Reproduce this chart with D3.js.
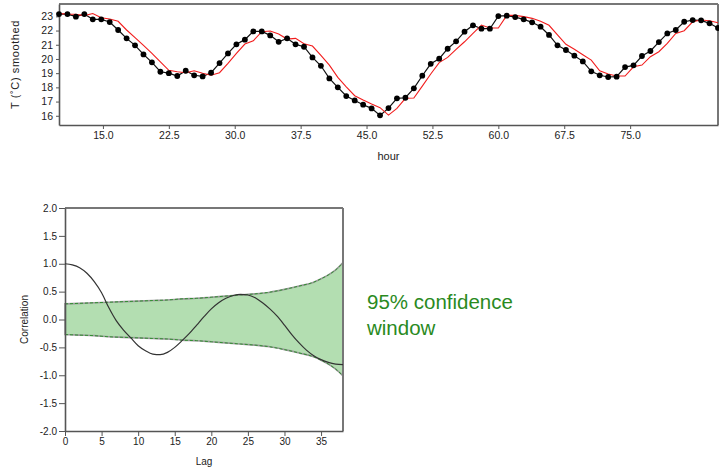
<!DOCTYPE html>
<html>
<head>
<meta charset="utf-8">
<script src="https://cdn.jsdelivr.net/npm/d3@7"></script>
<style>
  html, body { margin: 0; padding: 0; background: #fff; }
  svg { display: block; font-family: "Liberation Sans", Arial, Helvetica, sans-serif; }
</style>
</head>
<body>
<svg id="chart" width="719" height="468"></svg>
<script>
// ---------- Top chart data: smoothed temperature (79 samples from hour 10 to 85) ----------
const sampleCount = 79;
const hourStart = 10;
const hourEnd = 85;
const tempObserved = [
  23.16, 23.16, 22.98, 23.16, 22.79, 22.79, 22.60, 22.04, 21.45, 20.96,
  20.32, 19.76, 19.10, 19.00, 18.80, 19.17, 18.85, 18.77, 19.03, 19.71,
  20.39, 21.03, 21.36, 21.94, 21.94, 21.66, 21.21, 21.45, 21.03, 20.86,
  20.11, 19.52, 18.63, 18.00, 17.39, 17.08, 16.78, 16.52, 16.03, 16.54,
  17.23, 17.27, 17.93, 18.82, 19.66, 20.02, 20.72, 21.24, 21.92, 22.37,
  22.13, 22.13, 23.02, 23.05, 22.95, 22.79, 22.58, 22.27, 21.69, 20.96,
  20.63, 20.23, 19.83, 19.13, 18.85, 18.73, 18.75, 19.43, 19.55, 20.21,
  20.56, 21.19, 21.80, 22.04, 22.62, 22.74, 22.72, 22.51, 22.18
];
const tempSmoothed = [
  23.20, 23.16, 23.15, 23.05, 23.20, 22.90, 22.81, 22.65, 22.04, 21.50,
  20.95, 20.40, 19.80, 19.20, 19.10, 19.03, 19.17, 18.99, 18.85, 19.03,
  19.69, 20.39, 21.05, 21.28, 21.92, 21.97, 21.76, 21.40, 21.45, 21.07,
  20.91, 20.25, 19.57, 18.70, 18.04, 17.41, 17.11, 16.83, 16.57, 16.05,
  16.52, 17.23, 17.25, 18.09, 18.94, 19.74, 20.11, 20.68, 21.21, 21.80,
  22.39, 22.18, 22.18, 23.07, 23.07, 22.98, 22.86, 22.65, 22.37, 21.69,
  21.03, 20.68, 20.30, 19.92, 19.17, 18.94, 18.80, 18.80, 19.45, 19.57,
  20.16, 20.51, 21.10, 21.80, 21.99, 22.62, 22.74, 22.69, 22.55
];
const hourTicks = [15.0, 22.5, 30.0, 37.5, 45.0, 52.5, 60.0, 67.5, 75.0];
const tempTicks = [16, 17, 18, 19, 20, 21, 22, 23];

// ---------- Bottom chart data: autocorrelation ----------
const lags = d3.range(0, 39);
const correlation = [
  1.00, 0.98, 0.93, 0.83, 0.68, 0.48, 0.21, -0.02, -0.19, -0.33,
  -0.47, -0.56, -0.62, -0.63, -0.59, -0.50, -0.38, -0.25, -0.10, 0.05,
  0.19, 0.30, 0.38, 0.43, 0.45, 0.44, 0.39, 0.30, 0.19, 0.06,
  -0.10, -0.27, -0.42, -0.55, -0.65, -0.72, -0.77, -0.80, -0.81
];
const bandLags =  [0, 2, 4, 6, 8, 10, 12, 14, 16, 18, 20, 22, 24, 26, 28, 30, 32, 34, 35, 36, 37, 38];
const bandUpper = [0.28, 0.29, 0.30, 0.31, 0.32, 0.33, 0.34, 0.35, 0.37, 0.38, 0.40, 0.42, 0.44, 0.46, 0.49, 0.54, 0.60, 0.67, 0.73, 0.80, 0.89, 1.02];
const bandLower = [-0.27, -0.28, -0.29, -0.31, -0.32, -0.33, -0.34, -0.35, -0.37, -0.38, -0.40, -0.42, -0.44, -0.46, -0.49, -0.54, -0.60, -0.67, -0.73, -0.80, -0.89, -1.01];
const corrTicks = [-2.0, -1.5, -1.0, -0.5, 0.0, 0.5, 1.0, 1.5, 2.0];
const lagTicks = [0, 5, 10, 15, 20, 25, 30, 35];

const svg = d3.select("#chart");
const textColor = "#222";
const axisColor = "#555";

function styleAxis(g) {
  g.selectAll("path.domain").attr("stroke", axisColor).attr("stroke-width", 1.6);
  g.selectAll(".tick line").attr("stroke", axisColor).attr("stroke-width", 1);
  g.selectAll(".tick text").attr("fill", textColor).attr("font-family", '"Liberation Sans", Arial, sans-serif');
}

// ================= TOP CHART =================
const T = { left: 59, right: 718, top: 4, bottom: 125 };
const xTop = d3.scaleLinear().domain([hourStart, hourEnd]).range([T.left, T.right]);
const yTop = d3.scaleLinear().domain([15.35, 23.87]).range([T.bottom, T.top]);
const hours = d3.range(sampleCount).map(i => hourStart + i * (hourEnd - hourStart) / (sampleCount - 1));
const obs = hours.map((h, i) => ({ h, v: tempObserved[i] }));
const smo = hours.map((h, i) => ({ h, v: tempSmoothed[i] }));

const topG = svg.append("g");
topG.append("line").attr("x1", T.left).attr("x2", T.right).attr("y1", T.top).attr("y2", T.top)
  .attr("stroke", "#777").attr("stroke-width", 2);
topG.append("line").attr("x1", T.right).attr("x2", T.right).attr("y1", T.top).attr("y2", T.bottom)
  .attr("stroke", "#777").attr("stroke-width", 2);

const gxTop = topG.append("g").attr("transform", `translate(0,${T.bottom})`)
  .call(d3.axisBottom(xTop).tickValues(hourTicks).tickFormat(d => d.toFixed(1)).tickSize(4).tickPadding(3).tickSizeOuter(0));
styleAxis(gxTop);
gxTop.selectAll(".tick text").attr("font-size", 10.5);

const gyTop = topG.append("g").attr("transform", `translate(${T.left},0)`)
  .call(d3.axisLeft(yTop).tickValues(tempTicks).tickFormat(d => String(d)).tickSize(3).tickPadding(3).tickSizeOuter(0));
styleAxis(gyTop);
gyTop.selectAll(".tick text").attr("font-size", 10.5);

topG.append("text").attr("x", (T.left + T.right) / 2).attr("y", 160)
  .attr("text-anchor", "middle").attr("font-size", 11).attr("fill", textColor).text("hour");
topG.append("text").attr("transform", `translate(19,${(T.top + T.bottom) / 2}) rotate(-90)`)
  .attr("text-anchor", "middle").attr("font-size", 11).attr("fill", textColor)
  .attr("letter-spacing", 0.6).text("T (˚C) smoothed");

const lineTop = d3.line().x(d => xTop(d.h)).y(d => yTop(d.v));
topG.append("path").datum(obs).attr("d", lineTop).attr("fill", "none")
  .attr("stroke", "#111").attr("stroke-width", 1.2);
topG.append("path").datum(smo).attr("d", lineTop).attr("fill", "none")
  .attr("stroke", "#f21d1d").attr("stroke-width", 1.1);
topG.append("g").selectAll("circle").data(obs).join("circle")
  .attr("cx", d => xTop(d.h)).attr("cy", d => yTop(d.v)).attr("r", 2.9).attr("fill", "#000");

// ================= BOTTOM CHART =================
const B = { left: 65, right: 343, top: 208, bottom: 431 };
const xB = d3.scaleLinear().domain([0, 38]).range([B.left, B.right]);
const yB = d3.scaleLinear().domain([-2, 2]).range([B.bottom, B.top]);
const bot = svg.append("g");

const band = bandLags.map((l, i) => ({ l, u: bandUpper[i], lo: bandLower[i] }));
const area = d3.area().x(d => xB(d.l)).y0(d => yB(d.lo)).y1(d => yB(d.u)).curve(d3.curveMonotoneX);
bot.append("path").datum(band).attr("d", area).attr("fill", "#b3deb1")
  .attr("stroke", "#9a9a9a").attr("stroke-width", 1.6);
const edgeU = d3.line().x(d => xB(d.l)).y(d => yB(d.u)).curve(d3.curveMonotoneX);
const edgeL = d3.line().x(d => xB(d.l)).y(d => yB(d.lo)).curve(d3.curveMonotoneX);
[edgeU, edgeL].forEach(fn => {
  bot.append("path").datum(band).attr("d", fn).attr("fill", "none")
    .attr("stroke", "#2f8f2f").attr("stroke-width", 1).attr("stroke-dasharray", "3,2");
});

bot.append("line").attr("x1", B.left).attr("x2", B.right).attr("y1", B.top).attr("y2", B.top)
  .attr("stroke", "#777").attr("stroke-width", 2);
bot.append("line").attr("x1", B.right).attr("x2", B.right).attr("y1", B.top).attr("y2", B.bottom)
  .attr("stroke", "#777").attr("stroke-width", 2);

const gxB = bot.append("g").attr("transform", `translate(0,${B.bottom})`)
  .call(d3.axisBottom(xB).tickValues(lagTicks).tickFormat(d => String(d)).tickSize(5).tickPadding(2).tickSizeOuter(0));
styleAxis(gxB);
gxB.selectAll(".tick text").attr("font-size", 10);

const gyB = bot.append("g").attr("transform", `translate(${B.left},0)`)
  .call(d3.axisLeft(yB).tickValues(corrTicks).tickFormat(d => d.toFixed(1)).tickSize(6).tickPadding(2).tickSizeOuter(0));
styleAxis(gyB);
gyB.selectAll(".tick text").attr("font-size", 10);

bot.append("text").attr("x", (B.left + B.right) / 2).attr("y", 465)
  .attr("text-anchor", "middle").attr("font-size", 10).attr("fill", textColor).text("Lag");
bot.append("text").attr("transform", `translate(28,${(B.top + B.bottom) / 2}) rotate(-90)`)
  .attr("text-anchor", "middle").attr("font-size", 10).attr("fill", textColor).text("Correlation");

const corrData = lags.map((l, i) => ({ l, v: correlation[i] }));
const corrLine = d3.line().x(d => xB(d.l)).y(d => yB(d.v)).curve(d3.curveMonotoneX);
bot.append("path").datum(corrData).attr("d", corrLine).attr("fill", "none")
  .attr("stroke", "#333").attr("stroke-width", 1.2);

// annotation
const note = svg.append("text").attr("x", 367).attr("y", 309)
  .attr("font-size", 20.5).attr("fill", "#2a8a1e")
  .attr("font-family", '"Liberation Sans", Arial, sans-serif');
note.append("tspan").attr("x", 367).attr("y", 309).text("95% confidence");
note.append("tspan").attr("x", 367).attr("y", 335).text("window");
</script>
</body>
</html>
